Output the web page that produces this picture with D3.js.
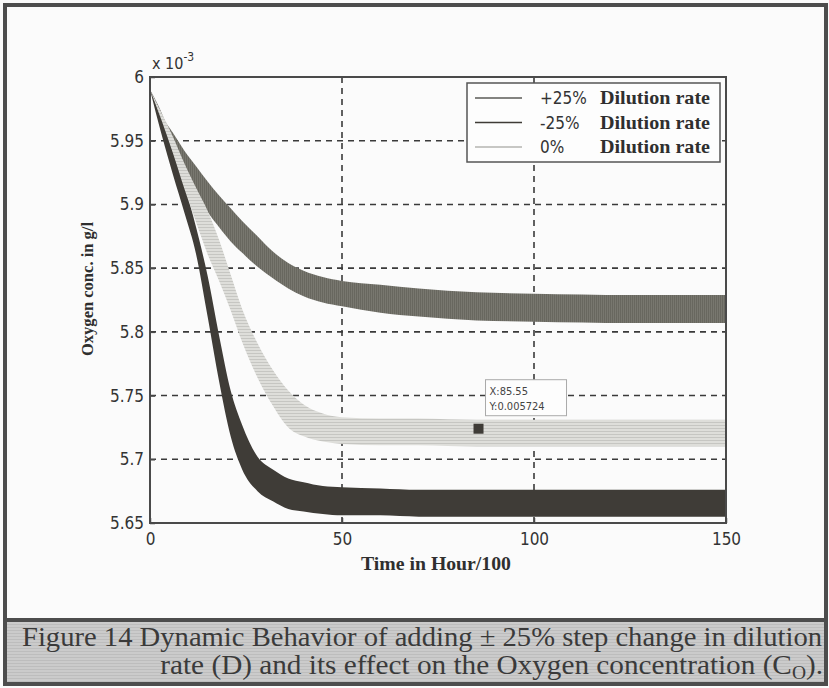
<!DOCTYPE html>
<html>
<head>
<meta charset="utf-8">
<script src="https://cdn.jsdelivr.net/npm/d3@7"></script>
<style>
  body { margin: 0; background: #fbfbfb; }
  svg { display: block; }
  .tick text { font-family: "DejaVu Sans Condensed", "Liberation Sans", sans-serif; font-stretch: condensed; font-size: 17px; fill: #333; }
  .serif { font-family: "Liberation Serif", "Times New Roman", serif; }
</style>
</head>
<body>
<svg id="content"></svg>
<script>
// time in hour/100
const times = [0, 3, 6, 9, 12, 15, 18, 21, 24, 28, 32, 36, 40, 45, 50, 60, 70, 85, 100, 125, 150];

// oxygen conc (x 10^-3 g/l): upper / lower envelope of each oscillating band
const plus25Upper  = [5.99, 5.970, 5.956, 5.942, 5.930, 5.918, 5.907, 5.897, 5.887, 5.875, 5.863, 5.854, 5.848, 5.843, 5.840, 5.837, 5.834, 5.831, 5.830, 5.829, 5.829];
const plus25Lower  = [5.99, 5.966, 5.945, 5.925, 5.908, 5.894, 5.882, 5.871, 5.862, 5.851, 5.842, 5.834, 5.828, 5.823, 5.820, 5.815, 5.812, 5.809, 5.808, 5.807, 5.807];
const minus25Upper = [5.99, 5.972, 5.947, 5.915, 5.882, 5.844, 5.797, 5.754, 5.727, 5.702, 5.692, 5.685, 5.682, 5.679, 5.678, 5.677, 5.676, 5.676, 5.676, 5.676, 5.676];
const minus25Lower = [5.99, 5.955, 5.923, 5.893, 5.861, 5.812, 5.761, 5.718, 5.692, 5.675, 5.667, 5.661, 5.659, 5.657, 5.656, 5.656, 5.655, 5.655, 5.655, 5.655, 5.655];
const zeroUpper    = [5.99, 5.972, 5.953, 5.932, 5.913, 5.895, 5.872, 5.845, 5.818, 5.791, 5.770, 5.754, 5.743, 5.736, 5.733, 5.732, 5.732, 5.731, 5.731, 5.731, 5.731];
const zeroLower    = [5.99, 5.966, 5.940, 5.912, 5.886, 5.861, 5.840, 5.817, 5.792, 5.764, 5.742, 5.725, 5.718, 5.714, 5.712, 5.711, 5.711, 5.710, 5.710, 5.710, 5.710];

const xTicks = [0, 50, 100, 150];
const yTicks = [5.65, 5.7, 5.75, 5.8, 5.85, 5.9, 5.95, 6];
const legendLabels = ["+25%", "-25%", "0%"];
const tipPoint = { x: 85.55, y: 5.724 };

const W = 829, H = 688;
const margin = { top: 77, right: 103, bottom: 165, left: 150 },
      width = W - margin.left - margin.right,
      height = H - margin.top - margin.bottom;

const svg = d3.select("#content").attr("width", W).attr("height", H);
const defs = svg.append("defs");

// scan-like textures
const pLight = defs.append("pattern").attr("id", "pLight").attr("width", 4).attr("height", 3).attr("patternUnits", "userSpaceOnUse");
pLight.append("rect").attr("width", 4).attr("height", 3).attr("fill", "#dededa");
pLight.append("rect").attr("width", 4).attr("height", 1).attr("fill", "#c6c6c2");
const pMid = defs.append("pattern").attr("id", "pMid").attr("width", 2).attr("height", 4).attr("patternUnits", "userSpaceOnUse");
pMid.append("rect").attr("width", 2).attr("height", 4).attr("fill", "#78776f");
pMid.append("rect").attr("width", 1).attr("height", 4).attr("fill", "#68675f");
const pCap = defs.append("pattern").attr("id", "pCap").attr("width", 6).attr("height", 3).attr("patternUnits", "userSpaceOnUse");
pCap.append("rect").attr("width", 6).attr("height", 3).attr("fill", "#cbcbcb");
pCap.append("rect").attr("width", 6).attr("height", 1).attr("fill", "#bdbdbd");

// figure frame + caption
svg.append("rect").attr("x", 0).attr("y", 0).attr("width", W).attr("height", H).attr("fill", "#fbfbfb");
svg.append("rect").attr("x", 7).attr("y", 620).attr("width", 817).attr("height", 63).attr("fill", "url(#pCap)");
svg.append("line").attr("x1", 5).attr("x2", 826).attr("y1", 620).attr("y2", 620).attr("stroke", "#4d4d4d").attr("stroke-width", 4);
svg.append("rect").attr("x", 5).attr("y", 5).attr("width", 821).attr("height", 679)
    .attr("fill", "none").attr("stroke", "#4d4d4d").attr("stroke-width", 4);

const cap = svg.append("g").attr("class", "serif").attr("fill", "#3a3a3a").style("font-size", "27px");
cap.append("text").attr("x", 22).attr("y", 646).attr("textLength", 800).attr("lengthAdjust", "spacingAndGlyphs")
    .text("Figure 14 Dynamic Behavior of adding \u00b1 25% step change in dilution");
// second line is right-aligned and a bit wider than the font gives
const cap2 = cap.append("g").attr("transform", "translate(823,674) scale(1.083,1)")
    .append("text").attr("x", 0).attr("y", 0).attr("text-anchor", "end");
cap2.append("tspan").text("rate (D) and its effect on the Oxygen concentration (C");
cap2.append("tspan").attr("dy", 5).style("font-size", "18px").text("O");
cap2.append("tspan").attr("dy", -5).text(").");

const g = svg.append("g").attr("transform", `translate(${margin.left},${margin.top})`);

const x = d3.scaleLinear().domain([0, 150]).range([0, width]);
const y = d3.scaleLinear().domain([5.65, 6]).range([height, 0]);

// grid
g.append("g").selectAll("line").data(yTicks.slice(1, -1)).join("line")
    .attr("x1", 0).attr("x2", width).attr("y1", d => y(d)).attr("y2", d => y(d))
    .attr("stroke", "#3a3a3a").attr("stroke-width", 1.6).attr("stroke-dasharray", "6,5");
g.append("g").selectAll("line").data(xTicks.slice(1, -1)).join("line")
    .attr("y1", 0).attr("y2", height).attr("x1", d => x(d)).attr("x2", d => x(d))
    .attr("stroke", "#3a3a3a").attr("stroke-width", 1.6).attr("stroke-dasharray", "6,5");

// bands: area between lower and upper envelope
const bands = [
  { upper: plus25Upper, lower: plus25Lower, fill: "url(#pMid)" },
  { upper: minus25Upper, lower: minus25Lower, fill: "#3f3c37" },
  { upper: zeroUpper, lower: zeroLower, fill: "url(#pLight)" }
];
const area = d3.area()
    .x(d => x(d.t))
    .y0(d => y(d.lo))
    .y1(d => y(d.hi))
    .curve(d3.curveMonotoneX);
bands.forEach(b => {
  const pts = times.map((t, i) => ({ t: t, hi: b.upper[i], lo: b.lower[i] }));
  g.append("path").datum(pts).attr("d", area).attr("fill", b.fill);
});

// axes box
g.append("rect").attr("width", width).attr("height", height)
    .attr("fill", "none").attr("stroke", "#4a4a4a").attr("stroke-width", 2);

const xAxis = g.append("g").attr("transform", `translate(0,${height})`)
    .call(d3.axisBottom(x).tickValues(xTicks).tickSizeInner(-5).tickSizeOuter(0).tickPadding(10));
const yAxis = g.append("g")
    .call(d3.axisLeft(y).tickValues(yTicks).tickSizeInner(-5).tickSizeOuter(0).tickPadding(6).tickFormat(d3.format("")));
[xAxis, yAxis].forEach(a => {
  a.select(".domain").remove();
  a.selectAll(".tick line").attr("stroke", "#4a4a4a").attr("stroke-width", 1.5);
});

// exponent label
const ex = g.append("text").attr("x", 2).attr("y", -8).attr("fill", "#333")
    .style("font-family", '"DejaVu Sans Condensed", sans-serif').style("font-size", "16px");
ex.append("tspan").text("x 10");
ex.append("tspan").attr("dy", -8).style("font-size", "12px").text("-3");

// axis titles
svg.append("text").attr("class", "serif").attr("x", 436).attr("y", 570).attr("text-anchor", "middle")
    .attr("fill", "#2f2f2f").style("font-size", "18px").style("font-weight", "bold")
    .attr("textLength", 150).attr("lengthAdjust", "spacingAndGlyphs")
    .text("Time in Hour/100");
svg.append("text").attr("class", "serif").attr("transform", "translate(93,289) rotate(-90)").attr("text-anchor", "middle")
    .attr("fill", "#2f2f2f").style("font-size", "16px").style("font-weight", "bold")
    .attr("textLength", 134).attr("lengthAdjust", "spacingAndGlyphs")
    .text("Oxygen conc. in g/l");

// legend
const lg = svg.append("g").attr("transform", "translate(467,83)");
lg.append("rect").attr("width", 253).attr("height", 79).attr("fill", "#fdfdfd")
    .attr("stroke", "#555").attr("stroke-width", 1.5);
const legendColors = ["#5a5a56", "#3f3c37", "#b4b4b0"];
legendLabels.forEach((lab, i) => {
  const ly = 15 + i * 24.5;
  lg.append("line").attr("x1", 8).attr("x2", 55).attr("y1", ly).attr("y2", ly)
      .attr("stroke", legendColors[i]).attr("stroke-width", 1.5);
  lg.append("text").attr("x", 73).attr("y", ly + 6).attr("fill", "#333")
      .style("font-family", '"DejaVu Sans Condensed", sans-serif').style("font-size", "17px")
      .text(lab);
  lg.append("text").attr("class", "serif").attr("x", 133).attr("y", ly + 6).attr("fill", "#2f2f2f")
      .style("font-size", "19px").style("font-weight", "bold")
      .attr("textLength", 110).attr("lengthAdjust", "spacingAndGlyphs").text("Dilution rate");
});

// data tip
const tx = x(tipPoint.x), ty = y(tipPoint.y);
g.append("rect").attr("x", tx - 5).attr("y", ty - 5).attr("width", 10).attr("height", 10).attr("fill", "#3f3c37");
const tip = g.append("g").attr("transform", `translate(${tx + 7},${ty - 49})`);
tip.append("rect").attr("width", 81).attr("height", 36).attr("fill", "#fdfdfd").attr("stroke", "#aaa").attr("stroke-width", 1);
tip.append("text").attr("x", 4).attr("y", 15).attr("fill", "#444").style("font-family", '"DejaVu Sans Condensed", sans-serif')
    .style("font-size", "11px").text("X:" + tipPoint.x);
tip.append("text").attr("x", 4).attr("y", 30).attr("fill", "#444").style("font-family", '"DejaVu Sans Condensed", sans-serif')
    .style("font-size", "11px").text("Y:" + (tipPoint.y / 1000).toFixed(6));
</script>
</body>
</html>
